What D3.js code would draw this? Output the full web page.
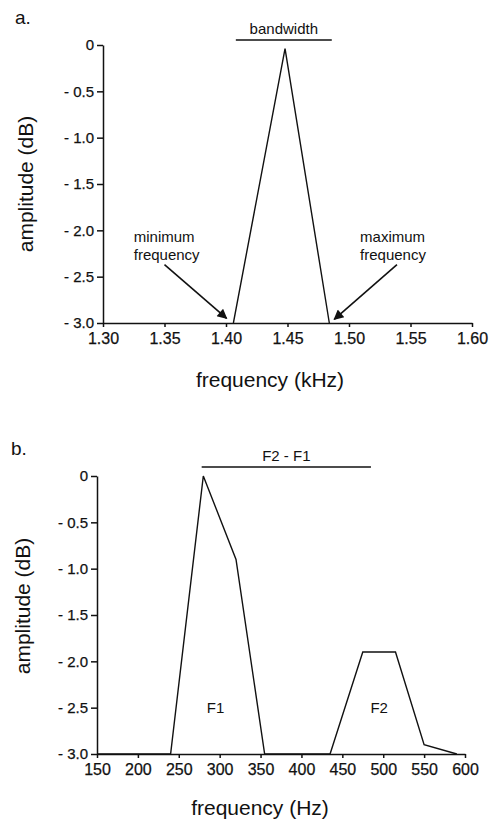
<!DOCTYPE html>
<html>
<head>
<meta charset="utf-8">
<script src="https://cdn.jsdelivr.net/npm/d3@7.9.0/dist/d3.min.js"></script>
<style>
  body { margin: 0; background: #fff; }
  svg { font-family: "Liberation Sans", Arial, sans-serif; }
  .tick line, .domain { stroke: #111; stroke-width: 1.5; }
  .tick text { fill: #111; stroke: #111; stroke-width: 0.25; }
  text { fill: #111; }
</style>
</head>
<body>
<div id="chart"></div>
<script>
// panel a: single band
const freqA = [1.406, 1.448, 1.484];
const ampA = [-3.0, -0.04, -3.0];
const ticksA = [1.30, 1.35, 1.40, 1.45, 1.50, 1.55, 1.60];

// panel b: two formants
const freqB = [150, 240, 280, 320, 355, 435, 475, 515, 550, 590];
const ampB = [-3.0, -3.0, 0, -0.9, -3.0, -3.0, -1.9, -1.9, -2.9, -3.0];
const ticksB = [150, 200, 250, 300, 350, 400, 450, 500, 550, 600];

const ampTicks = [0, -0.5, -1.0, -1.5, -2.0, -2.5, -3.0];

const svg = d3.select("#chart")
  .append("svg")
    .attr("width", 495)
    .attr("height", 821);

svg.append("defs").append("marker")
    .attr("id", "arrow")
    .attr("viewBox", "0 0 10 10")
    .attr("refX", 9)
    .attr("refY", 5)
    .attr("markerWidth", 15)
    .attr("markerHeight", 10)
    .attr("markerUnits", "userSpaceOnUse")
    .attr("orient", "auto")
  .append("path")
    .attr("d", "M0,0 L10,5 L0,10 Z")
    .attr("fill", "#111");

function ampFormat(d) {
  return d === 0 ? "0" : "- " + Math.abs(d).toFixed(1);
}

function drawPanel(opts) {
  const g = svg.append("g");
  const x = d3.scaleLinear().domain(opts.xDomain).range(opts.xRange);
  const y = d3.scaleLinear().domain([0, -3]).range(opts.yRange);

  // axes
  g.append("g")
    .attr("transform", `translate(0,${opts.yRange[1]})`)
    .call(d3.axisBottom(x).tickValues(opts.xTicks).tickFormat(opts.xFormat).tickSizeInner(4).tickSizeOuter(0).tickPadding(6))
    .call(a => a.selectAll("text").style("font-size", "16px"));

  g.append("g")
    .attr("transform", `translate(${opts.xRange[0]},0)`)
    .call(d3.axisLeft(y).tickValues(ampTicks).tickFormat(ampFormat).tickSizeInner(6).tickSizeOuter(0).tickPadding(3))
    .call(a => a.selectAll("text").style("font-size", "15px"));

  // the spectrum line
  const line = d3.line().x(d => x(d[0])).y(d => y(d[1]));
  g.append("path")
    .datum(d3.zip(opts.freqs, opts.amps))
    .attr("fill", "none")
    .attr("stroke", "#111")
    .attr("stroke-width", 1.4)
    .attr("d", line);

  // bracket line above
  g.append("line")
    .attr("x1", x(opts.bar[0])).attr("x2", x(opts.bar[1]))
    .attr("y1", opts.barY).attr("y2", opts.barY)
    .attr("stroke", "#111").attr("stroke-width", 1.6);
  g.append("text")
    .attr("x", x((opts.bar[0] + opts.bar[1]) / 2))
    .attr("y", opts.barY - 6)
    .attr("text-anchor", "middle")
    .style("font-size", "15px")
    .text(opts.barLabel);

  // axis titles
  g.append("text")
    .attr("x", opts.xTitlePos[0]).attr("y", opts.xTitlePos[1])
    .attr("text-anchor", "middle")
    .style("font-size", "21px")
    .text(opts.xTitle);
  g.append("text")
    .attr("transform", `translate(${opts.yTitlePos[0]},${opts.yTitlePos[1]}) rotate(-90)`)
    .attr("text-anchor", "middle")
    .style("font-size", "21px")
    .text("amplitude (dB)");

  // panel letter
  g.append("text")
    .attr("x", opts.letterPos[0]).attr("y", opts.letterPos[1])
    .style("font-size", "19px")
    .text(opts.letter);

  return { g, x, y };
}

const a = drawPanel({
  xDomain: [1.30, 1.60], xRange: [103, 472], yRange: [45, 323],
  xTicks: ticksA, xFormat: d3.format(".2f"),
  freqs: freqA, amps: ampA,
  bar: [1.408, 1.486], barY: 40, barLabel: "bandwidth",
  xTitle: "frequency (kHz)", xTitlePos: [270, 387],
  yTitlePos: [33, 184],
  letter: "a.", letterPos: [15, 24]
});

// arrows pointing at the band edges
const arrowsA = [
  { from: [1.350, -2.37], to: [1.4005, -2.95], lines: ["minimum", "frequency"], tx: 1.325 },
  { from: [1.539, -2.37], to: [1.488, -2.96], lines: ["maximum", "frequency"], tx: 1.509 }
];
arrowsA.forEach(d => {
  a.g.append("line")
    .attr("x1", a.x(d.from[0])).attr("y1", a.y(d.from[1]))
    .attr("x2", a.x(d.to[0])).attr("y2", a.y(d.to[1]))
    .attr("stroke", "#111").attr("stroke-width", 1.6)
    .attr("marker-end", "url(#arrow)");
  d.lines.forEach((t, i) => {
    a.g.append("text")
      .attr("x", a.x(d.tx))
      .attr("y", a.y(-2.13) + i * 18)
      .style("font-size", "15px")
      .text(t);
  });
});

const b = drawPanel({
  xDomain: [150, 600], xRange: [97, 465], yRange: [476, 754],
  xTicks: ticksB, xFormat: d3.format("d"),
  freqs: freqB, amps: ampB,
  bar: [278, 485], barY: 467, barLabel: "F2 - F1",
  xTitle: "frequency (Hz)", xTitlePos: [260, 815],
  yTitlePos: [30, 606],
  letter: "b.", letterPos: [11, 455]
});

// formant labels
[["F1", 295], ["F2", 495]].forEach(([t, f]) => {
  b.g.append("text")
    .attr("x", b.x(f))
    .attr("y", b.y(-2.5) + 5)
    .attr("text-anchor", "middle")
    .style("font-size", "15px")
    .text(t);
});
</script>
</body>
</html>
